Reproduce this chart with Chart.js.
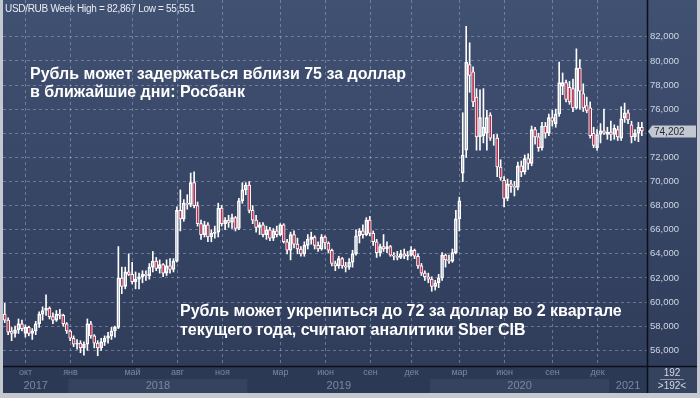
<!DOCTYPE html>
<html>
<head>
<meta charset="utf-8">
<script src="https://cdn.jsdelivr.net/npm/chart.js@4.4.1/dist/chart.umd.min.js"></script>
<style>
  html, body { margin: 0; padding: 0; background: #c3c8d1; }
  canvas { display: block; }
</style>
</head>
<body>
<canvas id="chart" width="700" height="398"></canvas>
<script>
// weekly candles, USD/RUB
const weeks = [
  '2017-08-21','2017-08-28','2017-09-04','2017-09-11','2017-09-18','2017-09-25','2017-10-02','2017-10-09','2017-10-16','2017-10-23',
  '2017-10-30','2017-11-06','2017-11-13','2017-11-20','2017-11-27','2017-12-04','2017-12-11','2017-12-18','2017-12-25',
  '2018-01-01','2018-01-08','2018-01-15','2018-01-22','2018-01-29','2018-02-05','2018-02-12','2018-02-19','2018-02-26','2018-03-05',
  '2018-03-12','2018-03-19','2018-03-26','2018-04-02','2018-04-09','2018-04-16','2018-04-23','2018-04-30','2018-05-07','2018-05-14',
  '2018-05-21','2018-05-28','2018-06-04','2018-06-11','2018-06-18','2018-06-25','2018-07-02','2018-07-09','2018-07-16','2018-07-23',
  '2018-07-30','2018-08-06','2018-08-13','2018-08-20','2018-08-27','2018-09-03','2018-09-10','2018-09-17','2018-09-24','2018-10-01',
  '2018-10-08','2018-10-15','2018-10-22','2018-10-29','2018-11-05','2018-11-12','2018-11-19','2018-11-26','2018-12-03','2018-12-10',
  '2018-12-17','2018-12-24','2018-12-31',
  '2019-01-07','2019-01-14','2019-01-21','2019-01-28','2019-02-04','2019-02-11','2019-02-18','2019-02-25','2019-03-04','2019-03-11',
  '2019-03-18','2019-03-25','2019-04-01','2019-04-08','2019-04-15','2019-04-22','2019-04-29','2019-05-06','2019-05-13','2019-05-20',
  '2019-05-27','2019-06-03','2019-06-10','2019-06-17','2019-06-24','2019-07-01','2019-07-08','2019-07-15','2019-07-22','2019-07-29',
  '2019-08-05','2019-08-12','2019-08-19','2019-08-26','2019-09-02','2019-09-09','2019-09-16','2019-09-23','2019-09-30','2019-10-07',
  '2019-10-14','2019-10-21','2019-10-28','2019-11-04','2019-11-11','2019-11-18','2019-11-25','2019-12-02','2019-12-09','2019-12-16',
  '2019-12-23','2019-12-30',
  '2020-01-06','2020-01-13','2020-01-20','2020-01-27','2020-02-03','2020-02-10','2020-02-17','2020-02-24','2020-03-02','2020-03-09',
  '2020-03-16','2020-03-23','2020-03-30','2020-04-06','2020-04-13','2020-04-20','2020-04-27','2020-05-04','2020-05-11','2020-05-18',
  '2020-05-25','2020-06-01','2020-06-08','2020-06-15','2020-06-22','2020-06-29','2020-07-06','2020-07-13','2020-07-20','2020-07-27',
  '2020-08-03','2020-08-10','2020-08-17','2020-08-24','2020-08-31','2020-09-07','2020-09-14','2020-09-21','2020-09-28','2020-10-05',
  '2020-10-12','2020-10-19','2020-10-26','2020-11-02','2020-11-09','2020-11-16','2020-11-23','2020-11-30','2020-12-07','2020-12-14',
  '2020-12-21','2020-12-28',
  '2021-01-04','2021-01-11','2021-01-18','2021-01-25','2021-02-01','2021-02-08','2021-02-15','2021-02-22','2021-03-01','2021-03-08'
];

const opens = [
  59.0,58.5,57.6,57.4,57.7,58.2,57.4,57.9,57.4,57.6, 58.2,59.0,59.3,59.5,58.8,58.5,59.0,58.9,58.2,
  57.6,57.0,56.5,56.6,56.2,56.5,58.2,57.2,56.6,56.2, 56.7,57.0,57.2,57.6,57.9,62.0,61.3,62.5,62.3,61.7,
  61.9,62.1,62.3,62.2,62.9,63.4,62.8,63.1,62.4,63.0, 62.7,63.4,67.6,66.9,68.2,68.1,69.9,68.0,66.5,65.6,
  66.4,65.4,65.7,65.8,67.8,66.5,66.8,66.6,67.0,66.1, 68.4,69.3,69.7,
  67.6,66.8,66.2,66.4,65.6,66.0,65.3,65.9,65.6,66.4, 65.0,64.3,65.6,64.8,64.4,64.0,64.7,65.2,65.4,64.7,
  64.4,65.4,64.9,64.3,63.2,63.0,63.6,63.0,62.9,63.3, 64.0,65.5,65.9,65.6,66.8,65.7,65.0,64.1,64.6,64.4,
  64.6,63.9,63.8,63.7,64.0,63.8,63.9,64.3,63.8,63.0, 62.4,62.1,
  61.9,61.3,61.6,62.0,63.9,63.5,63.4,64.1,66.9,70.7, 72.6,79.7,79.1,77.0,73.7,73.8,74.0,75.5,73.6,73.6,
  71.2,70.1,68.6,69.8,69.6,69.5,71.3,70.8,71.9,71.5, 74.3,73.7,72.8,74.6,74.0,75.3,74.8,75.6,77.9,78.2,
  77.8,77.7,76.1,79.4,77.3,76.3,76.1,74.0,72.8,73.9, 74.2,73.9,
  74.1,73.9,74.3,73.6,75.3,75.7,74.7,73.7,74.0,74.5
];
const highs = [
  59.9,58.7,57.9,58.0,58.6,58.5,58.1,58.0,57.8,58.4, 59.2,59.6,60.6,59.6,59.1,59.3,59.4,59.0,58.3,
  57.7,57.2,56.9,56.8,56.7,58.6,58.4,57.3,56.8,57.0, 57.2,57.5,57.9,58.0,64.6,62.9,62.9,64.0,63.3,62.5,
  62.4,62.6,62.6,63.2,64.2,63.7,63.5,63.2,63.5,63.6, 63.6,67.9,69.3,68.5,68.9,70.7,70.8,68.3,66.8,66.7,
  66.6,66.0,66.3,68.2,68.0,67.0,67.2,67.3,67.1,68.6, 69.9,69.9,70.0,
  68.0,67.2,66.6,66.6,66.3,66.2,66.1,66.3,66.5,66.5, 65.2,65.8,65.9,65.3,64.6,65.0,65.6,65.8,65.5,65.0,
  65.6,65.5,65.0,64.4,63.4,63.8,63.7,63.3,63.6,64.3, 66.0,66.1,66.4,67.0,67.1,65.9,65.2,64.8,65.6,65.0,
  64.7,64.1,64.2,64.3,64.4,64.2,64.6,64.4,64.0,63.2, 62.6,62.4,
  62.1,61.8,62.3,64.1,64.0,63.9,64.4,67.6,68.7,75.7, 82.867,81.5,79.5,77.7,77.6,77.7,75.9,75.7,73.9,73.9,
  71.8,70.4,70.2,70.1,70.0,71.6,71.7,72.2,72.3,74.6, 74.5,74.0,74.9,74.9,75.6,75.9,76.0,79.9,79.0,78.4,
  78.3,78.5,81.0,80.1,78.1,77.0,76.6,74.5,74.3,74.8, 76.0,74.5,
  75.0,74.7,74.6,76.2,76.5,75.9,75.0,74.3,74.9,74.9
];
const lows = [
  58.3,57.3,56.8,57.1,57.4,57.6,57.1,57.2,56.9,57.3, 57.9,58.5,58.9,58.6,58.2,58.4,58.6,58.0,57.4,
  56.8,56.3,56.1,55.8,55.6,56.0,57.0,56.2,55.551,56.0, 56.4,56.6,56.9,57.1,57.8,60.7,61.1,62.2,61.5,61.1,
  61.1,61.6,61.8,61.9,62.5,62.6,62.4,62.1,62.2,62.4, 62.5,63.3,65.9,66.7,67.7,67.9,67.8,66.3,65.2,65.4,
  65.0,65.0,65.3,65.4,66.3,66.0,66.2,66.1,65.9,66.0, 68.2,68.9,67.4,
  66.5,65.8,65.6,65.4,65.2,65.1,65.1,65.4,65.5,64.9, 64.0,63.5,64.5,64.0,63.8,63.8,64.4,64.8,64.4,64.2,
  64.3,64.4,64.1,63.0,62.6,62.8,62.8,62.5,62.7,62.9, 63.9,64.9,65.3,65.5,65.5,64.7,63.7,63.8,64.2,64.1,
  63.8,63.5,63.5,63.6,63.6,63.5,63.8,63.6,62.8,62.2, 61.8,61.6,
  60.9,61.0,61.2,61.8,62.9,63.2,63.3,64.0,65.9,70.0, 72.0,77.4,76.2,72.6,72.6,73.2,72.6,73.4,73.0,70.4,
  70.1,67.9,68.4,69.1,68.8,69.3,70.4,70.6,71.0,71.3, 73.1,72.5,72.6,73.6,73.8,74.6,74.5,75.4,77.2,76.6,
  76.4,75.8,76.0,76.0,75.8,75.7,73.6,72.8,72.6,73.2, 73.9,73.5,
  73.4,73.5,73.4,73.4,74.9,74.8,73.2,73.4,73.3,73.8
];
const closes = [
  58.5,57.5,57.4,57.7,58.2,57.8,57.9,57.4,57.6,58.2, 59.0,59.3,59.5,58.8,58.5,59.0,58.9,58.2,57.6,
  57.0,56.5,56.6,56.2,56.5,58.2,57.2,56.6,56.2,56.7, 57.0,57.2,57.6,57.9,62.0,61.3,62.5,62.3,61.7,61.9,
  62.1,62.3,62.2,62.9,63.4,62.8,63.1,62.4,63.0,62.7, 63.4,67.6,66.9,68.2,68.1,69.9,68.0,66.5,65.6,66.4,
  65.4,65.7,65.8,67.8,66.5,66.8,66.6,67.0,66.1,68.4, 69.3,69.7,67.6,
  66.8,66.2,66.4,65.6,66.0,65.3,65.9,65.6,66.4,65.0, 64.3,65.6,64.8,64.4,64.0,64.7,65.2,65.4,64.7,64.4,
  65.4,64.9,64.3,63.2,63.0,63.6,63.0,62.9,63.3,64.0, 65.5,65.9,65.6,66.8,65.7,65.0,64.1,64.6,64.4,64.6,
  63.9,63.8,63.7,64.0,63.8,63.9,64.3,63.8,63.0,62.4, 62.1,61.9,
  61.3,61.6,62.0,63.9,63.5,63.4,64.1,66.9,68.4,72.2, 79.9,78.8,76.6,73.7,75.3,74.5,75.3,73.6,73.6,71.2,
  70.3,68.6,69.8,69.6,69.5,71.3,70.8,71.9,71.5,74.3, 73.7,72.8,74.6,74.0,75.3,75.0,75.6,78.2,78.2,76.8,
  76.6,76.1,79.4,77.5,76.1,75.9,73.8,73.0,73.9,74.2, 74.0,74.1,
  73.9,74.4,73.7,75.2,75.7,75.1,73.7,74.0,74.5,74.202
];

const yTicks = [56, 58, 60, 62, 64, 66, 68, 70, 72, 74, 76, 78, 80, 82];
const monthTickWeeks = ['2017-10-02','2018-01-01','2018-05-07','2018-08-06','2018-11-05','2019-03-04','2019-06-03',
  '2019-09-02','2019-11-25','2020-03-02','2020-06-01','2020-09-07','2020-12-07'];
const monthTickNames = ['окт','янв','май','авг','ноя','мар','июн','сен','дек','мар','июн','сен','дек'];
const yearStartWeeks = ['2017-08-21','2018-01-01','2018-12-31','2020-01-06','2021-01-04'];
const yearNames = ['2017','2018','2019','2020','2021'];

const titleText = 'USD/RUB Week High = 82,867 Low = 55,551';
const noteTop = ['Рубль может задержаться вблизи 75 за доллар', 'в ближайшие дни: Росбанк'];
const noteBottom = ['Рубль может укрепиться до 72 за доллар во 2 квартале', 'текущего года, считают аналитики Sber CIB'];

var redFill = '#bd2f50';
var gridColor = 'rgba(150,165,195,0.55)';
var labelFont = '"Liberation Sans", Arial, sans-serif';

function fmt(v) {
  return v.toFixed(3).replace('.', ',');
}

// background, panels, month grid
const framePlugin = {
  id: 'frame',
  beforeDraw(chart) {
    var c = chart.ctx, a = chart.chartArea, xs = chart.scales.x;
    var W = chart.width;
    c.save();
    c.fillStyle = '#c3c8d1';
    c.fillRect(0, 0, W, chart.height);

    var g = c.createLinearGradient(0, 0, 0, a.bottom);
    g.addColorStop(0, '#415172');
    g.addColorStop(1, '#2f3c5a');
    c.fillStyle = g;
    c.fillRect(a.left, 0, W - 3 - a.left, a.bottom);

    // bottom axis panel
    c.fillStyle = '#2c3955';
    c.fillRect(a.left, a.bottom, W - 3 - a.left, 27);
    c.fillStyle = '#35435f';
    c.fillRect(a.right, a.bottom, W - 3 - a.right, 27);

    // year bands
    var step = (a.right - a.left) / chart.data.labels.length;
    for (var i = 0; i < yearNames.length; i++) {
      var x0 = xs.getPixelForValue(weeks.indexOf(yearStartWeeks[i])) - step / 2;
      var x1 = i + 1 < yearNames.length ? xs.getPixelForValue(weeks.indexOf(yearStartWeeks[i + 1])) - step / 2 : a.right;
      x0 = Math.max(x0, a.left);
      if (i % 2 === 1) {
        c.fillStyle = '#35435f';
        c.fillRect(x0, a.bottom + 13, x1 - x0, 14);
      }
      c.fillStyle = '#7c87a0';
      c.font = '11px ' + labelFont;
      c.textAlign = 'center';
      c.textBaseline = 'middle';
      c.fillText(yearNames[i], (x0 + x1) / 2, a.bottom + 20);
    }

    // month grid + labels
    c.strokeStyle = gridColor;
    c.lineWidth = 1;
    c.setLineDash([3, 3]);
    for (var m = 0; m < monthTickWeeks.length; m++) {
      var px = Math.round(xs.getPixelForValue(weeks.indexOf(monthTickWeeks[m]))) + 0.5;
      c.beginPath();
      c.moveTo(px, 0);
      c.lineTo(px, a.bottom);
      c.stroke();
      c.fillStyle = '#7c87a0';
      c.font = '9px ' + labelFont;
      c.textAlign = 'center';
      c.textBaseline = 'middle';
      c.fillText(monthTickNames[m], px, a.bottom + 7);
    }
    c.restore();
  },
  afterDraw(chart) {
    var c = chart.ctx, a = chart.chartArea, ys = chart.scales.y;
    var W = chart.width;
    c.save();

    // title
    c.fillStyle = '#e8ecf4';
    c.font = '10px ' + labelFont;
    c.letterSpacing = '-0.3px';
    c.textAlign = 'left';
    c.textBaseline = 'middle';
    c.fillText(titleText, 5, 9);
    c.letterSpacing = '0px';

    // news notes
    c.fillStyle = '#ffffff';
    c.font = 'bold 16px ' + labelFont;
    c.textBaseline = 'alphabetic';
    c.fillText(noteTop[0], 30, 79);
    c.fillText(noteTop[1], 30, 97);
    c.fillText(noteBottom[0], 180, 316);
    c.fillText(noteBottom[1], 180, 335);

    // separators
    c.strokeStyle = '#0b0f18';
    c.lineWidth = 1.5;
    c.beginPath();
    c.moveTo(a.right + 0.5, 0);
    c.lineTo(a.right + 0.5, a.bottom + 27);
    c.moveTo(a.left, a.bottom + 0.5);
    c.lineTo(W - 3, a.bottom + 0.5);
    c.stroke();

    // last price marker
    var last = closes[closes.length - 1];
    var py = Math.round(ys.getPixelForValue(last)) + 0.5;
    c.fillStyle = '#c3c7cf';
    c.beginPath();
    c.moveTo(a.right + 1, py);
    c.lineTo(a.right + 5, py - 6);
    c.lineTo(W - 4, py - 6);
    c.lineTo(W - 4, py + 6);
    c.lineTo(a.right + 5, py + 6);
    c.closePath();
    c.fill();
    c.fillStyle = '#262a33';
    c.font = '10px ' + labelFont;
    c.textAlign = 'left';
    c.textBaseline = 'middle';
    c.fillText(fmt(last), a.right + 7, py + 0.5);

    // bar count box
    var cx = (a.right + W - 3) / 2;
    c.fillStyle = '#d5dae4';
    c.font = '10px ' + labelFont;
    c.textAlign = 'center';
    c.fillText(String(weeks.length + 6), cx, a.bottom + 7);
    c.strokeStyle = '#8a94aa';
    c.lineWidth = 1;
    c.beginPath();
    c.moveTo(cx - 12, a.bottom + 13.5);
    c.lineTo(cx + 12, a.bottom + 13.5);
    c.stroke();
    c.fillText('>' + (weeks.length + 6) + '<', cx, a.bottom + 20);
    c.restore();
  }
};

var bodyColors = closes.map(function (c, i) { return c < opens[i] ? redFill : 'rgba(0,0,0,0)'; });

new Chart(document.getElementById('chart'), {
  type: 'bar',
  data: {
    labels: weeks.concat(['']),
    datasets: [
      {
        label: 'upper wick',
        data: weeks.map(function (w, i) { return [Math.max(opens[i], closes[i]), highs[i]]; }),
        backgroundColor: '#ffffff',
        barThickness: 1,
        grouped: false,
        order: 2,
      },
      {
        label: 'lower wick',
        data: weeks.map(function (w, i) { return [lows[i], Math.min(opens[i], closes[i])]; }),
        backgroundColor: '#ffffff',
        barThickness: 1,
        grouped: false,
        order: 2,
      },
      {
        label: 'body',
        data: weeks.map(function (w, i) { return [opens[i], closes[i]]; }),
        backgroundColor: bodyColors,
        borderColor: '#ffffff',
        borderWidth: 1,
        borderSkipped: false,
        barThickness: 3,
        grouped: false,
        order: 1,
      },
    ],
  },
  options: {
    responsive: false,
    animation: false,
    devicePixelRatio: 1,
    layout: { padding: { left: 3, top: 0, right: 3, bottom: 32 } },
    plugins: { legend: { display: false }, tooltip: { enabled: false } },
    scales: {
      x: { display: false, offset: true, grid: { display: false } },
      y: {
        position: 'right',
        min: 54.7,
        max: 85.05,
        afterBuildTicks: function (s) { s.ticks = yTicks.map(function (v) { return { value: v }; }); },
        afterFit: function (s) {
          s.width = 50;
          s.paddingTop = 0;
          s.paddingBottom = 0;
        },
        grid: { color: gridColor, drawTicks: false },
        border: { display: false, dash: [3, 3] },
        ticks: {
          padding: 3,
          color: '#cfd6e4',
          font: { size: 9.5, family: labelFont },
          callback: function (v) { return fmt(v); },
        },
      },
    },
  },
  plugins: [framePlugin],
});
</script>
</body>
</html>
